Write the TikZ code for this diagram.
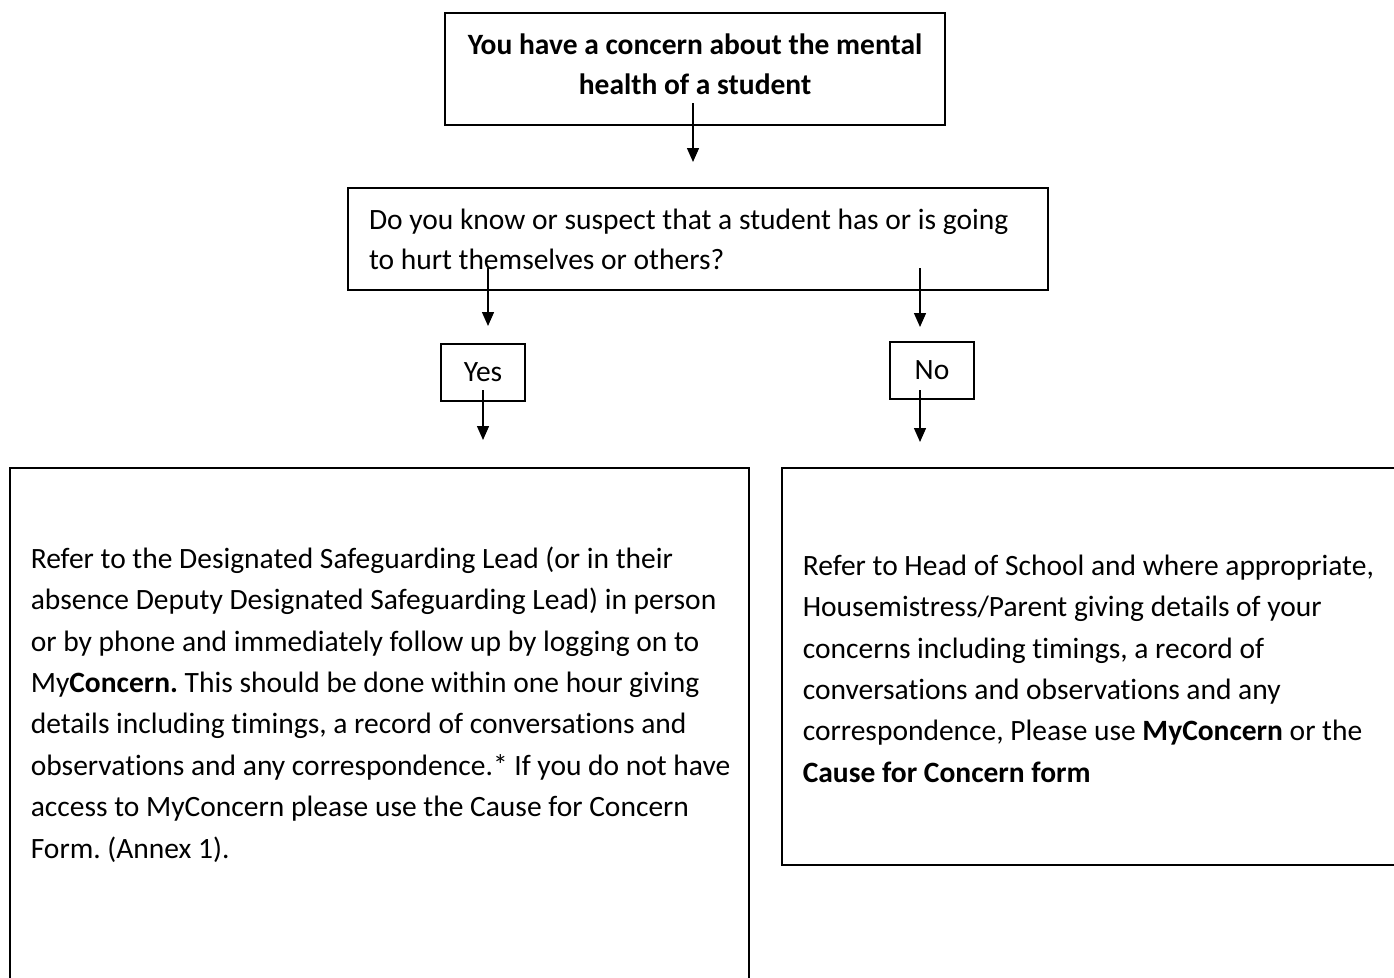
\documentclass[tikz,border=0pt]{standalone}
\usepackage{fontspec}
\setmainfont{Carlito}[Ligatures=NoCommon]
\frenchspacing
\usetikzlibrary{arrows.meta}
\begin{document}
\begin{tikzpicture}[x=1pt, y=-1pt, line width=1.6pt, >={Triangle[width=12pt,length=14pt]}]
            \tikzset{box style/.style={draw, rectangle, inner sep=0pt, font=\fontsize{29.5}{40}\selectfont},
                     body style/.style={inner sep=0pt, align=left, anchor=north west, font=\fontsize{29.5}{41.4}\selectfont},
                     arr style/.style={->, line width=1.4pt}}
            \useasboundingbox (0,0) rectangle (1394,977);
            \node[box style, minimum width=500pt, minimum height=112pt] (start) at (695,69) {};
            \node[inner sep=0pt, align=center, font=\fontsize{29.5}{40}\selectfont\bfseries] (starttext) at (695,64)
                {You have a concern about the mental\\health of a student};
            \node[box style, minimum width=700pt, minimum height=102pt, text width=658pt, align=flush left] (question) at (698,239)
                {Do you know or suspect that a student has or is going\\to hurt themselves or others?};
            \node[box style, minimum width=84pt, minimum height=57pt] (yes) at (483,372.5) {Yes};
            \node[box style, minimum width=84pt, minimum height=57pt] (no) at (932,370.5) {No};
            \node[box style, minimum width=739pt, minimum height=540pt, anchor=north] (dsl) at (379.5,467) {};
            \node[body style] (dsltext) at (30,546)
                {Refer to the Designated Safeguarding Lead (or in their\\
                absence Deputy Designated Safeguarding Lead) in person\\
                or by phone and immediately follow up by logging on to\\
                My\textbf{Concern.} This should be done within one hour giving\\
                details including timings, a record of conversations and\\
                observations and any correspondence.* If you do not have\\
                access to MyConcern please use the Cause for Concern\\
                Form. (Annex 1).};
            \node[box style, minimum width=640pt, minimum height=397pt, anchor=north west] (head) at (781,467) {};
            \node[body style] (headtext) at (802,554)
                {Refer to Head of School and where appropriate,\\
                Housemistress/Parent giving details of your\\
                concerns including timings, a record of\\
                conversations and observations and any\\
                correspondence, Please use \textbf{MyConcern} or the\\
                \textbf{Cause for Concern form}};
            \coordinate (s1) at (693,103);  \coordinate (e1) at (693,162);
            \coordinate (s2) at (488,268);  \coordinate (e2) at (488,326);
            \coordinate (s3) at (920,268);  \coordinate (e3) at (920,327);
            \coordinate (s4) at (483,390);  \coordinate (e4) at (483,440);
            \coordinate (s5) at (920,390);  \coordinate (e5) at (920,442);
            \foreach \i in {1,...,5}
                \draw[arr style] (s\i) -- (e\i);
        \end{tikzpicture}
\end{document}
